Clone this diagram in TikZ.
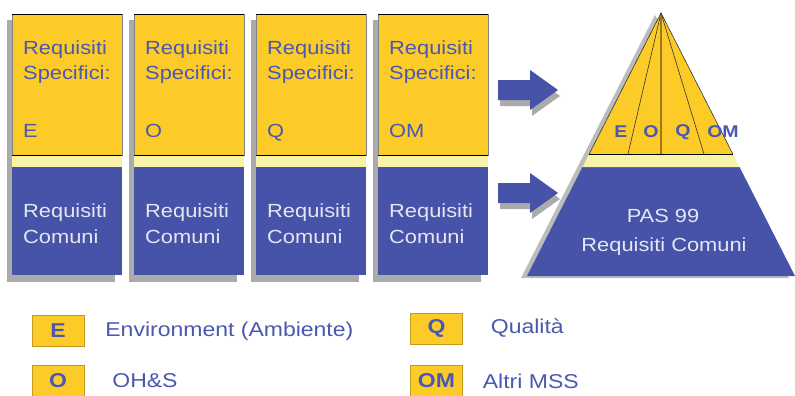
\documentclass[tikz,border=0pt]{standalone}
\usepackage{fontspec}
\setmainfont{Liberation Sans}[FakeStretch=1.15]
\usetikzlibrary{positioning}

\definecolor{giallo}{HTML}{FCCB28}
\definecolor{giallochiaro}{HTML}{F7F3A8}
\definecolor{blu}{HTML}{4653A8}
\definecolor{blutesto}{HTML}{4A58B2}
\definecolor{ombra}{HTML}{ABABAB}
\definecolor{testochiaro}{HTML}{E6E6F2}
\definecolor{bordooro}{HTML}{C29A1C}

\begin{document}
\begin{tikzpicture}[x=1pt, y=-1pt,
        testo/.style={font=\fontsize{19}{23}\selectfont, anchor=base west, inner sep=0pt},
        sigla/.style={font=\bfseries\fontsize{17}{20}\selectfont, text=blutesto, inner sep=0pt},
        legbox/.style={draw=bordooro, fill=giallo, minimum width=52pt, minimum height=31pt,
            inner sep=0pt, font=\bfseries\fontsize{20}{22}\selectfont, text=blutesto},
        legtesto/.style={font=\fontsize{20}{24}\selectfont, text=blutesto, inner sep=0pt}]
        \useasboundingbox[fill=white] (0,0) rectangle (795,396);

        % Colonne dei requisiti
        \foreach \i/\lab in {0/E,1/O,2/Q,3/OM} {
            \pgfmathsetmacro\x{12+122*\i}
            \fill[ombra] (\x-5,20) rectangle (\x+103,282); % Ombra
            \fill[giallo] (\x,14) rectangle (\x+110,155);
            \fill[giallochiaro] (\x,155) rectangle (\x+110,167);
            \fill[blu] (\x,167) rectangle (\x+110,275);
            \draw[gray, line width=0.4pt] (\x,14) rectangle (\x+110,155);
            \draw[black, line width=0.9pt] (\x,14) -- (\x+110,14);
            \draw[black, line width=0.9pt] (\x,155) -- (\x+110,155);
            \node[testo, text=blutesto] (req\i) at (\x+11,55) {Requisiti};
            \node[testo, text=blutesto] (spe\i) at (\x+11,80) {Specifici:};
            \node[testo, text=blutesto] (sig\i) at (\x+11,137) {\lab};
            \node[testo, text=testochiaro] (reqc\i) at (\x+11,217) {Requisiti};
            \node[testo, text=testochiaro] (com\i) at (\x+11,243) {Comuni};
        }

        % Frecce
        \foreach \y in {90,193} {
            \fill[ombra] (500,\y-4) -- (532,\y-4) -- (532,\y-14) -- (560,\y+6) -- (532,\y+26)
                -- (532,\y+16) -- (500,\y+16) -- cycle; % Ombra
            \fill[blu] (498,\y-10) -- (530,\y-10) -- (530,\y-20) -- (558,\y) -- (530,\y+20)
                -- (530,\y+10) -- (498,\y+10) -- cycle;
        }

        % Piramide PAS 99
        \coordinate (apice) at (661,13);
        \fill[ombra!80] (655,15) -- (521,278) -- (789,278) -- cycle; % Ombra
        \fill[blu] (582.5,167) -- (739.5,167) -- (795,276) -- (527,276) -- cycle;
        \fill[giallochiaro] (589.2,154) -- (732.8,154) -- (739.5,167) -- (582.5,167) -- cycle;
        \fill[giallo] (apice) -- (732.8,154) -- (589.2,154) -- cycle;
        \draw[black!80, line width=0.6pt] (apice) -- (628,154);
        \draw[bordooro!80!black, line width=1.2pt] (apice) -- (661,154);
        \draw[black!80, line width=0.6pt] (apice) -- (704,154);
        \draw[black!80, line width=0.6pt] (589.2,154) -- (apice) -- (732.8,154);
        \draw[black, line width=0.9pt] (589.2,154) -- (732.8,154);
        \node[sigla] (pE) at (621,132) {E};
        \node[sigla] (pO) at (651,132) {O};
        \node[sigla] (pQ) at (683,132) {Q};
        \node[sigla] (pOM) at (723,132) {OM};
        \node[testo, anchor=base, text=testochiaro] (pas) at (663,222) {PAS 99};
        \node[testo, anchor=base, text=testochiaro] (pasreq) at (664,251) {Requisiti Comuni};

        % Legenda
        \node[legbox] (legE) at (58,331) {E};
        \node[legbox] (legO) at (58,381) {O};
        \node[legbox] (legQ) at (436.5,328.5) {Q};
        \node[legbox] (legOM) at (436.5,381) {OM};
        \node[legtesto, right=21pt of legE] (txtE) {Environment (Ambiente)};
        \node[legtesto, right=28pt of legO] (txtO) {OH\&S};
        \node[legtesto, right=28pt of legQ] (txtQ) {Qualità};
        \node[legtesto, right=20pt of legOM] (txtOM) {Altri MSS};
    \end{tikzpicture}
\end{document}
